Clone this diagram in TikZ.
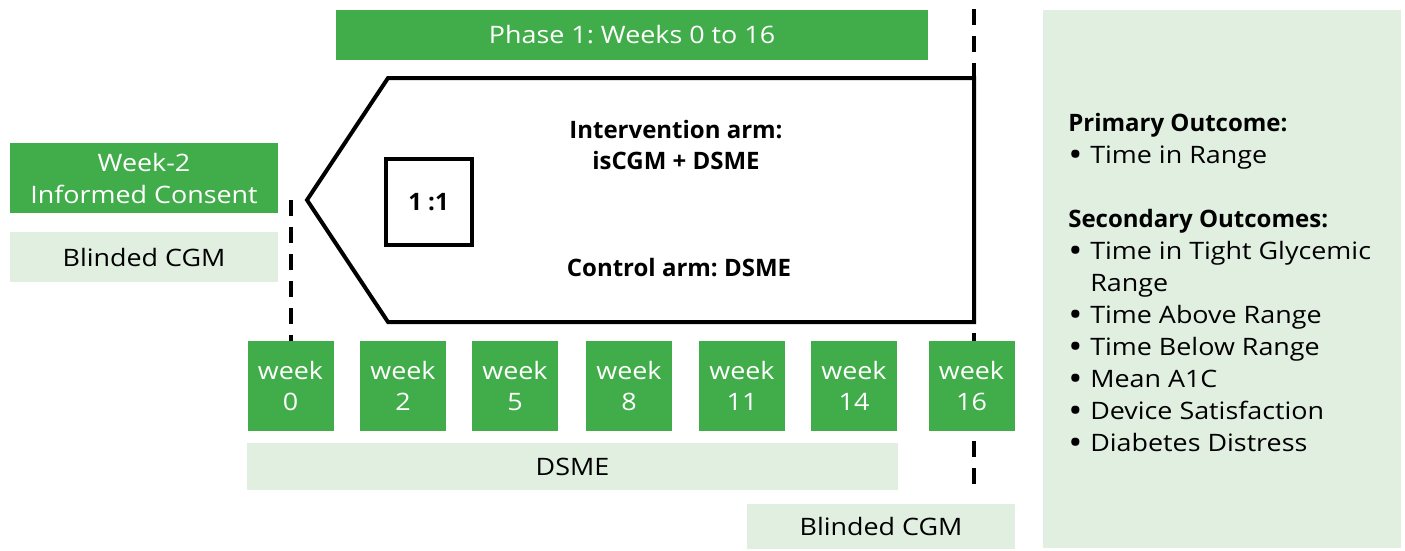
\documentclass[tikz,border=0pt]{standalone}
\usepackage{fontspec}
\usepackage{graphicx}
\setmainfont{Open Sans}
\newfontfamily\widef[FakeStretch=1.12]{Open Sans}
\frenchspacing
\definecolor{gr}{RGB}{65,173,74}
\definecolor{lgr}{RGB}{225,239,225}
\newcommand{\bigbul}{\raisebox{-2.4pt}{\scalebox{1.4}{•}}}
\tikzset{
  gbox/.style={fill=gr, text=white, inner sep=0pt, align=center, font=\widef\fontsize{18}{24}\selectfont},
  lbox/.style={fill=lgr, text=black, inner sep=0pt, align=center, font=\widef\fontsize{18}{24}\selectfont},
  wbox/.style={gbox, minimum width=64.5pt, minimum height=67.5pt, font=\widef\fontsize{18}{23.5}\selectfont},
  dline/.style={line width=3.3pt, dash pattern=on 12pt off 8.25pt},
  thick3/.style={line width=3pt},
  outtxt/.style={anchor=base west, inner sep=0pt, font=\widef\fontsize{18}{24}\selectfont},
  outhead/.style={anchor=base west, inner sep=0pt, font=\fontsize{18}{24}\selectfont\bfseries},
  armtxt/.style={inner sep=0pt, align=center, font=\fontsize{18}{23}\selectfont\bfseries},
}
\begin{document}
\begin{tikzpicture}[x=0.75pt, y=-0.75pt]
\useasboundingbox (0,0) rectangle (1405,550);
% right panel
\node[lbox, minimum width=268.5pt, minimum height=403.5pt] (panel) at (1222,279) {};
% dashed lines
\coordinate (l0) at (291,200);
\coordinate (l1) at (291,341);
\coordinate (r0) at (974,9);
\coordinate (r1) at (974,490);
\draw[dline] (l0) -- (l1);
\draw[dline] (r0) -- (r1);
% phase
\node[gbox, minimum width=444pt, minimum height=37.5pt] (phase) at (632,35) {Phase 1: Weeks 0 to 16};
% week -2
\node[gbox, minimum width=201pt, minimum height=52.5pt] (consent) at (144,178) {Week-2\\Informed Consent};
\node[lbox, minimum width=201pt, minimum height=37.5pt] (bcgm1) at (144,257) {Blinded CGM};
% pentagon
\coordinate (p1) at (307,200);
\coordinate (p2) at (388,78);
\coordinate (p3) at (974,78);
\coordinate (p4) at (974,322);
\coordinate (p5) at (388,322);
\draw[thick3, fill=white, line join=miter] (p1) -- (p2) -- (p3) -- (p4) -- (p5) -- cycle;
\node[draw, thick3, fill=white, minimum width=64.5pt, minimum height=64.5pt, inner sep=0pt, font=\fontsize{18}{22}\selectfont\bfseries] (ratio) at (428.5,202) {1 :1};
\node[armtxt] (int) at (676,145) {Intervention arm:\\isCGM + DSME};
\node[armtxt] (ctrl) at (679,268) {Control arm: DSME};
% weeks
\node[wbox] (w0) at (290.5,386) {week\\0};
\node[wbox] (w2) at (403,386) {week\\2};
\node[wbox] (w5) at (515,386) {week\\5};
\node[wbox] (w8) at (629,386) {week\\8};
\node[wbox] (w11) at (742,386) {week\\11};
\node[wbox] (w14) at (854,386) {week\\14};
\node[wbox] (w16) at (971.5,386) {week\\16};
% DSME & blinded
\node[lbox, minimum width=488.25pt, minimum height=35.25pt] (dsme) at (572.5,466.5) {DSME};
\node[lbox, minimum width=201pt, minimum height=33.75pt] (bcgm2) at (881,526.5) {Blinded CGM};
% outcomes
\node[outhead] (po) at (1068,131) {Primary Outcome:};
\node[outtxt] (b1) at (1068,163) {\bigbul};
\node[outtxt] (t1) at (1090,163) {Time in Range};
\node[outhead] (so) at (1068,227) {Secondary Outcomes:};
\node[outtxt] (b2) at (1068,259) {\bigbul};
\node[outtxt] (t2) at (1090,259) {Time in Tight Glycemic};
\node[outtxt] (t2b) at (1090,291) {Range};
\node[outtxt] (b3) at (1068,323) {\bigbul};
\node[outtxt] (t3) at (1090,323) {Time Above Range};
\node[outtxt] (b4) at (1068,355) {\bigbul};
\node[outtxt] (t4) at (1090,355) {Time Below Range};
\node[outtxt] (b5) at (1068,387) {\bigbul};
\node[outtxt] (t5) at (1090,387) {Mean A1C};
\node[outtxt] (b6) at (1068,419) {\bigbul};
\node[outtxt] (t6) at (1090,419) {Device Satisfaction};
\node[outtxt] (b7) at (1068,451) {\bigbul};
\node[outtxt] (t7) at (1090,451) {Diabetes Distress};
\end{tikzpicture}
\end{document}
